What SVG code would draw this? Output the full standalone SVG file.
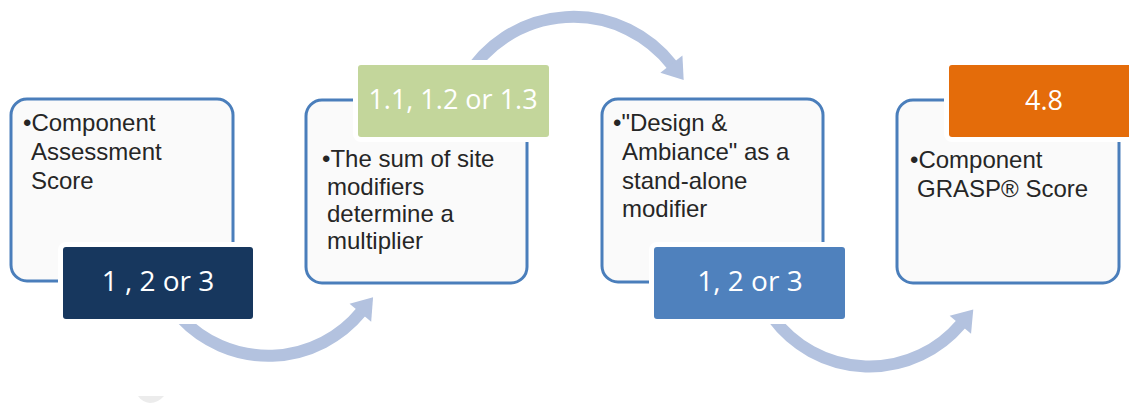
<svg xmlns="http://www.w3.org/2000/svg" width="1129" height="403" viewBox="0 0 1129 403">
  <style>
    .frame { fill: #fafafa; stroke: #4a7ebb; stroke-width: 3; }
    .label { stroke: #ffffff; stroke-width: 10; paint-order: stroke; }
    .body { font-family: "Liberation Sans", Arial, sans-serif; font-size: 24px; fill: #262626; }
    .ltext { font-family: "Open Sans", "Liberation Sans", sans-serif; font-size: 27px; fill: #ffffff; text-anchor: middle; }
    .arc { fill: none; stroke: #b3c2df; stroke-width: 12; stroke-linecap: butt; }
  </style>
  <defs>
    <marker id="head" markerUnits="userSpaceOnUse" viewBox="0 0 20 28" markerWidth="20" markerHeight="28" refX="1" refY="14" orient="auto" overflow="visible">
      <path d="M0,0 L20,14 L0,28 Z" fill="#b3c2df"/>
    </marker>
  </defs>
  <rect width="1129" height="403" fill="#ffffff"/>
  <path d="M138,396 L164,396 Q158,403 150,403 Q142,402 138,396 Z" fill="#ececec"/>

  <g id="connectors">
    <path class="arc" d="M 181 318 A 120 120 0 0 0 361 312" marker-end="url(#head)"/>
    <path class="arc" d="M 466 78 A 125 125 0 0 1 672 65" marker-end="url(#head)"/>
    <path class="arc" d="M 773 318 A 120 120 0 0 0 961 324" marker-end="url(#head)"/>
  </g>

  <g id="node1">
    <rect class="frame" x="11" y="99" width="222" height="182" rx="16"/>
    <text class="body"><tspan x="23" y="131">•Component</tspan><tspan x="31" y="160">Assessment</tspan><tspan x="31" y="189">Score</tspan></text>
    <rect class="label" x="63" y="247" width="190" height="72" rx="3" fill="#17375e"/>
    <text class="ltext" x="158" y="291" style="font-size:28px">1 , 2 or 3</text>
  </g>

  <g id="node2">
    <rect class="frame" x="306" y="100" width="221" height="183" rx="16"/>
    <rect class="label" x="358" y="65" width="191" height="72" rx="3" fill="#c3d69b"/>
    <text class="ltext" x="453" y="109">1.1, 1.2 or 1.3</text>
    <text class="body"><tspan x="322" y="167">•The sum of site</tspan><tspan x="327" y="195">modifiers</tspan><tspan x="327" y="222">determine a</tspan><tspan x="327" y="249">multiplier</tspan></text>
  </g>

  <g id="node3">
    <rect class="frame" x="602" y="99" width="221" height="183" rx="16"/>
    <text class="body"><tspan x="613" y="131">•"Design &amp;</tspan><tspan x="622" y="160">Ambiance" as a</tspan><tspan x="622" y="189">stand-alone</tspan><tspan x="622" y="217">modifier</tspan></text>
    <rect class="label" x="654" y="247" width="191" height="72" rx="3" fill="#4f81bd"/>
    <text class="ltext" x="750" y="291" style="font-size:28px">1, 2 or 3</text>
  </g>

  <g id="node4">
    <rect class="frame" x="897" y="100" width="222" height="183" rx="16"/>
    <rect class="label" x="949" y="65" width="191" height="72" rx="3" fill="#e46c0a"/>
    <text class="ltext" x="1044" y="110">4.8</text>
    <text class="body"><tspan x="910" y="168">•Component</tspan><tspan x="917" y="197">GRASP® Score</tspan></text>
  </g>
</svg>
